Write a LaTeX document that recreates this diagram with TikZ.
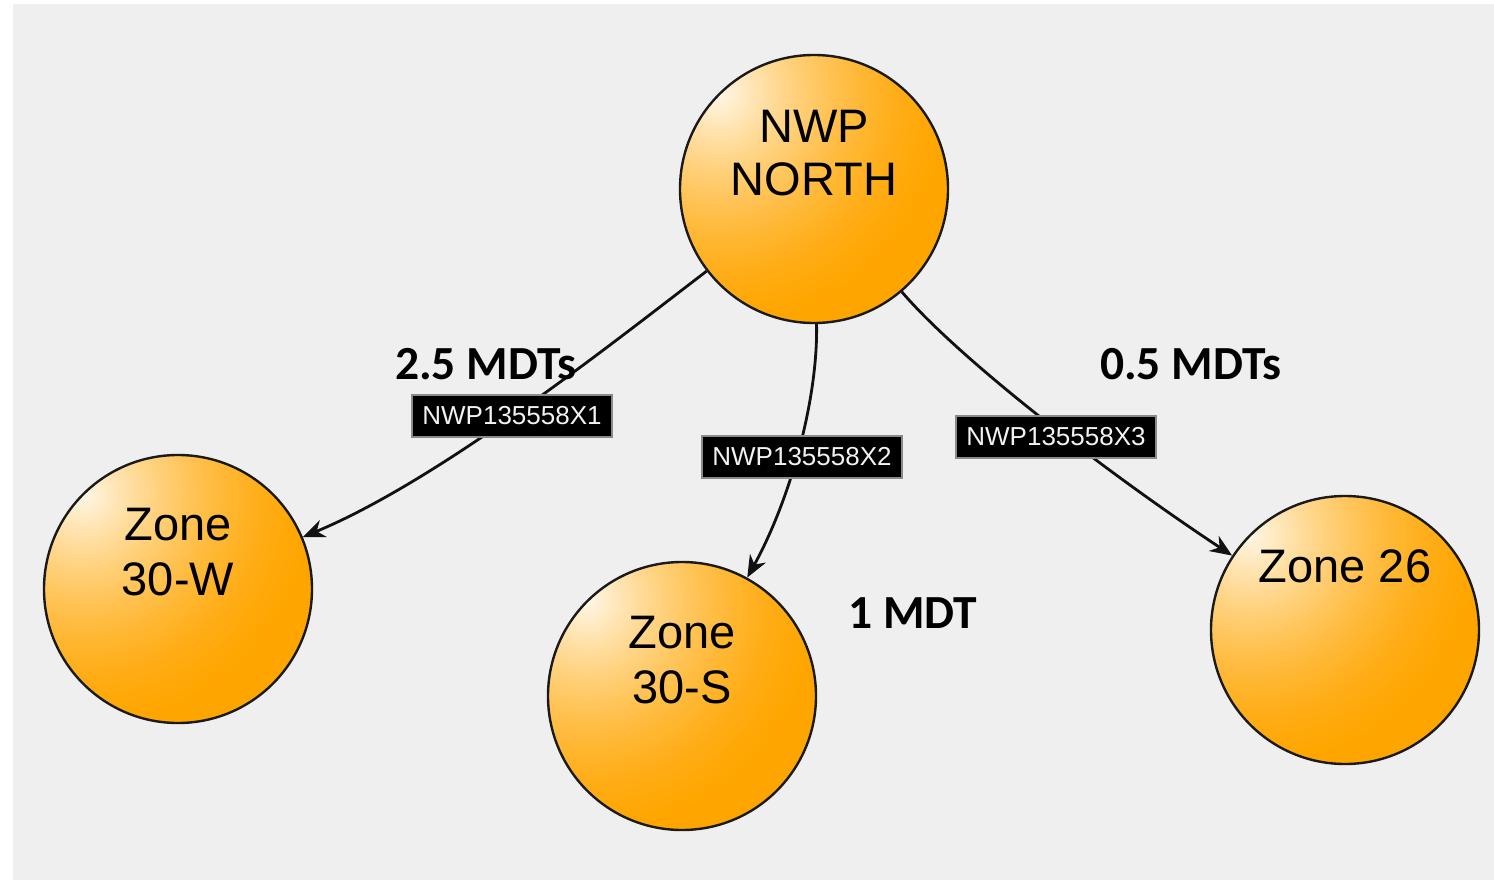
\documentclass[tikz,border=0pt]{standalone}
\usepackage{fontspec}
\setmainfont{Liberation Sans}
\newfontfamily\calfont{Carlito}
\usetikzlibrary{arrows.meta}
\definecolor{bg}{HTML}{EFEFEF}
\definecolor{rim}{HTML}{1A1A1A}
\definecolor{linec}{HTML}{111111}
\definecolor{taggray}{HTML}{8A8A8A}
\definecolor{tagtext}{HTML}{F2F2F2}
\definecolor{oa}{HTML}{FFF8EA}
\definecolor{og}{HTML}{FFA500}
\begin{document}
\begin{tikzpicture}[x=1pt,y=-1pt,
  zone/.style={circle, draw=rim, line width=2.4pt, minimum size=268pt, inner sep=0pt},
  ztext/.style={anchor=base, font=\fontsize{47}{50}\selectfont, text=black, inner sep=0pt},
  link/.style={line width=2.8pt, draw=linec, -{Stealth[length=22pt,width=18pt,inset=7pt]}},
  tag/.style={fill=black, draw=taggray, line width=1.8pt, text=tagtext, font=\fontsize{26}{28}\selectfont, minimum width=200pt, minimum height=42pt, inner sep=0pt},
  mdt/.style={anchor=base west, font=\calfont\bfseries\fontsize{47.5}{50}\selectfont, inner sep=0pt}]
\useasboundingbox (0,0) rectangle (1494,881);
\fill[bg] (13,4) rectangle (1494,880);

% gradient fills of the circles (light spot at upper left), built from rings
\foreach \cx/\cy in {814/189, 178/589, 682/696, 1345/630} {
  \begin{scope}
    \clip (\cx,\cy) circle[radius=134];
    \fill[og] (\cx,\cy) circle[radius=136];
    \foreach \rr in {240,236,...,4} {
      \pgfmathsetmacro\pf{100*pow(1-\rr/240,1.6)}
      \fill[oa!\pf!og] (\cx-95,\cy-95) circle[radius=\rr];
    }
  \end{scope}
}

% circles
\node[zone] (nwp) at (814,189) {};
\node[zone] (zw) at (178,589) {};
\node[zone] (zs) at (682,696) {};
\node[zone] (z26) at (1345,630) {};

% circle texts
\node[ztext] (nwpA) at ([yshift=47pt]nwp.center) {NWP};
\node[ztext] (nwpB) at ([yshift=-6pt]nwp.center) {NORTH};
\node[ztext] (zwA) at ([yshift=49pt]zw.center) {Zone};
\node[ztext] (zwB) at ([yshift=-6pt]zw.center) {30-W};
\node[ztext] (zsA) at ([yshift=48pt]zs.center) {Zone};
\node[ztext] (zsB) at ([yshift=-7pt]zs.center) {30-S};
\node[ztext] (z26A) at ([yshift=48pt]z26.center) {Zone 26};

% connectors
\draw[link] (nwp) .. controls (610,345) and (440,480) .. (zw);
\draw[link] (nwp) .. controls (818,400) and (790,500) .. (zs);
\draw[link] (nwp) .. controls (960,360) and (1110,475) .. (z26);

% connector tags
\node[tag] (t1) at (512,416) {NWP135558X1};
\node[tag] (t2) at (802,457) {NWP135558X2};
\node[tag] (t3) at (1056,437) {NWP135558X3};

% amounts
\node[mdt] (m1) at (395,379) {2.5 MDTs};
\node[mdt] (m2) at (848,628) {1 MDT};
\node[mdt] (m3) at (1100,379) {0.5 MDTs};
\end{tikzpicture}
\end{document}
